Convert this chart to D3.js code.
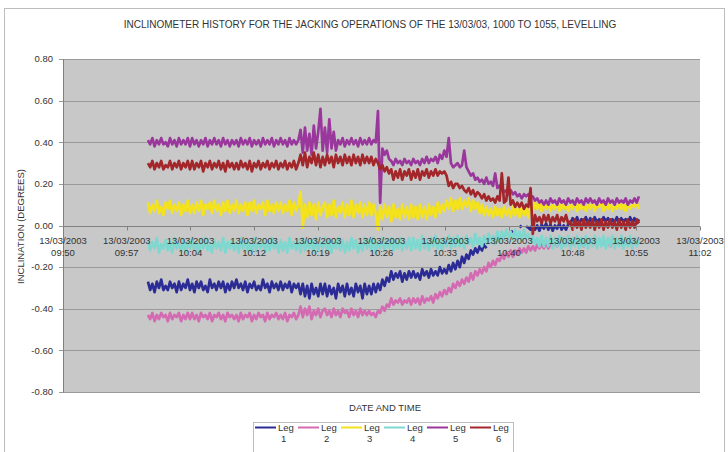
<!DOCTYPE html>
<html>
<head>
<meta charset="utf-8">
<script src="https://cdn.jsdelivr.net/npm/d3@7"></script>
<style>
  body { margin: 0; background: #fff; }
  svg { display: block; font-family: "Liberation Sans", Arial, sans-serif; }
</style>
</head>
<body>
<svg id="chart" width="728" height="452"></svg>
<script>
// ---- chart text ----
const chartTitle = "INCLINOMETER HISTORY FOR THE JACKING OPERATIONS OF THE 13/03/03, 1000 TO 1055, LEVELLING";
const xAxisTitle = "DATE AND TIME";
const yAxisTitle = "INCLINATION (DEGREES)";
const chartDate = "13/03/2003";

// ---- axes ----
const yTicks = [0.8, 0.6, 0.4, 0.2, 0.0, -0.2, -0.4, -0.6, -0.8];
const xTickTimes = ["09:50:24", "09:57:36", "10:04:48", "10:12:00", "10:19:12", "10:26:24",
                    "10:33:36", "10:40:48", "10:48:00", "10:55:12", "11:02:24"];

// ---- series ----
const seriesNames = ["Leg 1", "Leg 2", "Leg 3", "Leg 4", "Leg 5", "Leg 6"];
const seriesColors = ["#2c2c96", "#d46ab2", "#f4e31c", "#7ed8d0", "#9a379c", "#a3262a"];

// logger readings, one every 15 s from 10:00:00 (degrees)
const sampleStart = "10:00:00";
const sampleStepSeconds = 15;

const leg1 = [
  -0.27,-0.31,-0.28,-0.32,-0.27,-0.30,-0.26,-0.31,-0.29,-0.31,-0.27,-0.30,-0.28,-0.32,-0.27,-0.31,-0.28,-0.30,-0.26,-0.31,
  -0.28,-0.32,-0.27,-0.30,-0.27,-0.31,-0.29,-0.32,-0.26,-0.30,-0.28,-0.31,-0.27,-0.30,-0.27,-0.32,-0.28,-0.31,-0.27,-0.30,
  -0.26,-0.30,-0.28,-0.31,-0.27,-0.32,-0.28,-0.30,-0.27,-0.31,-0.29,-0.31,-0.26,-0.30,-0.28,-0.32,-0.27,-0.30,-0.28,-0.31,
  -0.27,-0.31,-0.28,-0.30,-0.27,-0.32,-0.28,-0.30,-0.28,-0.33,-0.28,-0.34,-0.29,-0.35,-0.28,-0.33,-0.30,-0.34,-0.28,-0.33,
  -0.28,-0.34,-0.29,-0.33,-0.30,-0.35,-0.28,-0.32,-0.29,-0.34,-0.28,-0.33,-0.30,-0.34,-0.28,-0.32,-0.29,-0.35,-0.28,-0.33,
  -0.29,-0.33,-0.28,-0.32,-0.28,-0.31,-0.26,-0.29,-0.25,-0.27,-0.22,-0.26,-0.23,-0.25,-0.22,-0.27,-0.23,-0.26,-0.22,-0.25,
  -0.22,-0.25,-0.23,-0.26,-0.21,-0.24,-0.22,-0.25,-0.21,-0.24,-0.22,-0.24,-0.20,-0.23,-0.21,-0.23,-0.19,-0.22,-0.18,-0.21,
  -0.17,-0.20,-0.15,-0.18,-0.14,-0.16,-0.12,-0.14,-0.11,-0.13,-0.10,-0.12,-0.09,-0.11,null,null,-0.07,-0.06,null,null,
  -0.06,-0.05,null,null,-0.035,-0.025,null,null,-0.01,0.0,null,-0.005,-0.01,-0.02,0.01,-0.02,0.0,-0.025,0.005,-0.015,
  0.01,-0.02,0.005,-0.025,0.0,-0.015,0.01,-0.02,0.0,-0.02,0.005,0.01,0.035,0.015,0.04,0.01,0.03,0.02,0.04,0.01,
  0.035,0.01,0.04,0.015,0.03,0.01,0.04,0.02,0.035,0.01,0.03,0.015,0.04,0.01,0.035,0.02,0.03,0.01,0.04,0.015,
  0.035,0.01,0.03
];

const leg2 = [
  -0.43,-0.45,-0.42,-0.46,-0.43,-0.45,-0.42,-0.44,-0.43,-0.46,-0.42,-0.45,-0.43,-0.44,-0.42,-0.46,-0.43,-0.45,-0.42,-0.45,
  -0.42,-0.45,-0.43,-0.46,-0.42,-0.44,-0.43,-0.45,-0.42,-0.46,-0.43,-0.44,-0.42,-0.45,-0.43,-0.46,-0.42,-0.44,-0.43,-0.45,
  -0.43,-0.46,-0.42,-0.45,-0.43,-0.44,-0.42,-0.46,-0.43,-0.45,-0.42,-0.44,-0.43,-0.46,-0.42,-0.45,-0.43,-0.44,-0.42,-0.45,
  -0.43,-0.45,-0.42,-0.46,-0.43,-0.44,-0.42,-0.45,-0.43,-0.39,-0.44,-0.40,-0.43,-0.39,-0.45,-0.41,-0.43,-0.40,-0.44,-0.41,
  -0.40,-0.43,-0.41,-0.44,-0.40,-0.43,-0.41,-0.44,-0.40,-0.42,-0.41,-0.44,-0.40,-0.43,-0.41,-0.44,-0.40,-0.43,-0.41,-0.43,
  -0.41,-0.43,-0.42,-0.44,-0.41,-0.42,-0.39,-0.41,-0.38,-0.39,-0.35,-0.38,-0.36,-0.37,-0.35,-0.38,-0.36,-0.37,-0.35,-0.38,
  -0.35,-0.37,-0.35,-0.38,-0.34,-0.37,-0.35,-0.36,-0.34,-0.37,-0.33,-0.35,-0.32,-0.34,-0.31,-0.33,-0.30,-0.32,-0.28,-0.30,
  -0.27,-0.29,-0.26,-0.28,-0.25,-0.27,-0.23,-0.26,-0.22,-0.24,-0.21,-0.23,-0.20,-0.22,-0.18,-0.20,-0.17,-0.19,-0.16,-0.17,
  -0.14,-0.16,-0.13,-0.15,-0.12,-0.15,-0.12,-0.14,-0.11,-0.13,-0.11,-0.13,-0.10,-0.12,-0.10,-0.12,-0.09,-0.11,-0.09,-0.11,
  -0.08,-0.11,-0.09,-0.10,-0.08,-0.10,-0.07,-0.10,-0.08,-0.09,-0.07,-0.10,-0.08,-0.09,-0.07,-0.09,-0.08,-0.10,-0.07,-0.09,
  -0.07,-0.09,-0.08,-0.10,-0.07,-0.09,-0.08,-0.09,-0.07,-0.10,-0.08,-0.09,-0.07,-0.09,-0.08,-0.10,-0.07,-0.09,-0.08,-0.09,
  -0.07,-0.09,-0.08
];

const leg3 = [
  0.11,0.06,0.10,0.07,0.12,0.06,0.09,0.05,0.11,0.08,0.12,0.06,0.10,0.07,0.11,0.05,0.10,0.07,0.12,0.06,
  0.10,0.06,0.11,0.07,0.12,0.05,0.10,0.08,0.11,0.06,0.12,0.07,0.10,0.05,0.11,0.07,0.12,0.06,0.10,0.07,
  0.12,0.06,0.10,0.07,0.11,0.05,0.11,0.07,0.12,0.06,0.10,0.08,0.11,0.05,0.12,0.07,0.10,0.06,0.11,0.07,
  0.11,0.06,0.10,0.07,0.12,0.05,0.11,0.07,0.10,0.16,-0.01,0.10,0.04,0.11,0.05,0.10,0.03,0.11,0.05,0.09,
  0.11,0.04,0.10,0.05,0.12,0.04,0.09,0.06,0.11,0.04,0.10,0.05,0.12,0.04,0.10,0.06,0.11,0.04,0.10,0.05,
  0.11,0.05,0.10,0.06,-0.02,0.09,0.03,0.10,0.04,0.09,0.02,0.10,0.04,0.08,0.03,0.10,0.04,0.09,0.03,0.10,
  0.04,0.09,0.03,0.10,0.04,0.09,0.03,0.10,0.05,0.09,0.04,0.11,0.06,0.10,0.07,0.12,0.08,0.13,0.07,0.12,
  0.08,0.13,0.08,0.12,0.09,0.13,0.07,0.12,0.08,0.11,0.06,0.10,0.05,0.09,0.05,0.08,0.04,0.09,0.05,0.08,
  0.04,0.09,0.05,0.08,0.04,0.09,0.05,0.08,0.04,0.09,0.05,0.08,0.04,0.10,0.07,0.11,0.08,0.11,0.07,0.10,
  0.08,0.11,0.07,0.10,0.08,0.11,0.07,0.10,0.08,0.11,0.07,0.10,0.08,0.11,0.07,0.10,0.08,0.11,0.07,0.10,
  0.08,0.11,0.07,0.10,0.09,0.11,0.07,0.10,0.08,0.11,0.07,0.10,0.08,0.11,0.08,0.10,0.07,0.11,0.08,0.10,
  0.09,0.11,0.08
];

const leg4 = [
  -0.07,-0.12,-0.08,-0.11,-0.06,-0.13,-0.09,-0.11,-0.07,-0.12,-0.08,-0.13,-0.06,-0.11,-0.09,-0.12,-0.07,-0.13,-0.08,-0.11,
  -0.06,-0.12,-0.08,-0.13,-0.07,-0.11,-0.06,-0.12,-0.09,-0.13,-0.07,-0.11,-0.08,-0.12,-0.06,-0.13,-0.08,-0.11,-0.07,-0.12,
  -0.08,-0.13,-0.06,-0.11,-0.07,-0.12,-0.09,-0.13,-0.06,-0.12,-0.08,-0.11,-0.07,-0.13,-0.08,-0.12,-0.06,-0.11,-0.07,-0.13,
  -0.07,-0.12,-0.08,-0.13,-0.06,-0.11,-0.08,-0.12,-0.07,-0.13,-0.06,-0.12,-0.08,-0.11,-0.07,-0.13,-0.06,-0.12,-0.08,-0.11,
  -0.06,-0.12,-0.07,-0.13,-0.08,-0.11,-0.06,-0.12,-0.07,-0.13,-0.08,-0.12,-0.06,-0.11,-0.07,-0.13,-0.08,-0.12,-0.06,-0.11,
  -0.07,-0.12,-0.06,-0.13,-0.08,-0.11,-0.06,-0.12,-0.07,-0.11,-0.06,-0.12,-0.08,-0.11,-0.06,-0.12,-0.07,-0.11,-0.06,-0.12,
  -0.06,-0.11,-0.07,-0.12,-0.05,-0.11,-0.07,-0.12,-0.06,-0.10,-0.05,-0.11,-0.07,-0.12,-0.06,-0.10,-0.05,-0.11,-0.06,-0.10,
  -0.05,-0.10,-0.06,-0.11,-0.05,-0.09,-0.06,-0.10,-0.04,-0.09,-0.06,-0.10,-0.05,-0.09,-0.04,-0.08,-0.05,-0.09,-0.03,-0.08,
  -0.03,-0.07,-0.02,-0.06,-0.03,-0.07,-0.02,-0.06,-0.03,-0.07,-0.02,-0.06,-0.04,-0.08,-0.05,-0.09,-0.06,-0.10,-0.05,-0.10,
  -0.06,-0.10,-0.05,-0.11,-0.06,-0.10,-0.05,-0.11,-0.06,-0.10,-0.05,-0.11,-0.06,-0.10,-0.05,-0.11,-0.06,-0.10,-0.05,-0.11,
  -0.06,-0.10,-0.05,-0.11,-0.06,-0.10,-0.05,-0.11,-0.06,-0.10,-0.05,-0.11,-0.06,-0.10,-0.05,-0.11,-0.06,-0.10,-0.05,-0.11,
  -0.06,-0.10,-0.07
];

const leg5 = [
  0.41,0.39,0.42,0.38,0.41,0.39,0.42,0.39,0.40,0.38,0.42,0.39,0.41,0.38,0.42,0.39,0.41,0.39,0.42,0.38,
  0.42,0.39,0.41,0.38,0.41,0.39,0.42,0.38,0.41,0.39,0.42,0.39,0.41,0.38,0.42,0.39,0.41,0.38,0.41,0.39,
  0.41,0.38,0.42,0.39,0.41,0.39,0.42,0.38,0.41,0.39,0.41,0.38,0.42,0.39,0.41,0.39,0.42,0.38,0.41,0.39,
  0.42,0.39,0.41,0.38,0.42,0.39,0.41,0.39,0.41,0.46,0.35,0.47,0.36,0.44,0.34,0.48,0.37,0.45,0.56,0.36,
  0.47,0.35,0.51,0.37,0.45,0.36,0.41,0.39,0.42,0.38,0.41,0.39,0.42,0.39,0.41,0.38,0.42,0.39,0.41,0.39,
  0.42,0.39,0.41,0.40,0.55,0.11,0.37,0.34,0.36,0.32,0.31,0.29,0.32,0.30,0.31,0.29,0.32,0.30,0.31,0.29,
  0.32,0.30,0.31,0.29,0.32,0.30,0.33,0.30,0.32,0.31,0.33,0.30,0.34,0.32,0.36,0.33,0.42,0.30,0.28,0.29,
  0.30,0.28,0.29,0.36,0.28,0.26,0.24,0.25,0.22,0.23,0.21,0.22,0.20,0.23,0.20,0.21,0.19,0.25,0.18,0.19,
  0.18,0.16,0.17,0.15,0.17,0.15,0.16,0.14,0.15,0.13,0.15,0.14,0.15,0.13,0.14,0.12,0.13,0.11,0.12,0.10,
  0.12,0.10,0.13,0.11,0.12,0.10,0.13,0.11,0.12,0.10,0.13,0.11,0.12,0.10,0.13,0.11,0.12,0.10,0.13,0.11,
  0.13,0.11,0.12,0.10,0.13,0.11,0.12,0.10,0.13,0.11,0.12,0.10,0.13,0.11,0.12,0.11,0.13,0.10,0.12,0.11,
  0.13,0.11,0.14
];

const leg6 = [
  0.30,0.28,0.31,0.27,0.30,0.28,0.31,0.27,0.29,0.28,0.31,0.27,0.30,0.28,0.31,0.27,0.30,0.28,0.31,0.27,
  0.31,0.27,0.30,0.28,0.31,0.26,0.30,0.28,0.31,0.27,0.30,0.28,0.31,0.27,0.30,0.26,0.31,0.28,0.30,0.27,
  0.30,0.27,0.31,0.28,0.30,0.27,0.31,0.26,0.30,0.28,0.31,0.27,0.30,0.28,0.31,0.27,0.30,0.28,0.31,0.27,
  0.30,0.28,0.31,0.27,0.30,0.28,0.31,0.27,0.30,0.34,0.29,0.35,0.28,0.33,0.30,0.35,0.29,0.34,0.28,0.33,
  0.29,0.34,0.30,0.33,0.28,0.34,0.30,0.33,0.29,0.34,0.30,0.33,0.29,0.34,0.30,0.33,0.29,0.34,0.30,0.33,
  0.30,0.33,0.29,0.32,0.30,0.27,0.29,0.26,0.28,0.25,0.27,0.22,0.26,0.23,0.27,0.22,0.26,0.24,0.27,0.22,
  0.26,0.23,0.27,0.22,0.26,0.24,0.27,0.23,0.26,0.24,0.27,0.24,0.26,0.25,0.26,0.24,0.19,0.21,0.18,0.20,
  0.20,0.18,0.19,0.17,0.16,0.18,0.15,0.17,0.14,0.16,0.15,0.13,0.15,0.12,0.14,0.12,0.13,0.11,0.14,0.12,
  0.25,0.11,0.12,0.23,0.10,0.12,0.09,0.11,0.09,0.11,0.08,0.10,0.09,0.18,-0.04,0.05,0.02,0.04,0.01,0.05,
  0.02,0.05,0.01,0.04,0.02,0.05,0.01,0.04,0.02,0.05,0.01,0.02,-0.02,0.03,-0.01,0.02,-0.02,0.03,-0.01,0.02,
  -0.01,0.03,-0.02,0.02,-0.01,0.03,-0.02,0.02,-0.01,0.03,-0.01,0.02,-0.02,0.03,-0.01,0.02,-0.02,0.03,-0.01,0.02,
  -0.01,0.03,0.01
];

const seriesValues = [leg1, leg2, leg3, leg4, leg5, leg6];

// ---- layout ----
const plot = { left: 63, right: 700, top: 59, bottom: 392 };

const svg = d3.select("#chart");
const parseTime = d3.timeParse("%d/%m/%Y %H:%M:%S");
const fmtDate = d3.timeFormat("%d/%m/%Y");
const fmtClock = d3.timeFormat("%H:%M");
const fmtY = d3.formatLocale({ decimal: ".", thousands: ",", grouping: [3], currency: ["", ""], minus: "-" }).format(".2f");

const tickDates = xTickTimes.map(s => parseTime(chartDate + " " + s));
const x = d3.scaleTime().domain([tickDates[0], tickDates[tickDates.length - 1]]).range([plot.left, plot.right]);
const y = d3.scaleLinear().domain([-0.8, 0.8]).range([plot.bottom, plot.top]);

const t0 = parseTime(chartDate + " " + sampleStart);
const toPoints = vals => vals.map((v, i) => ({ t: new Date(t0.getTime() + i * sampleStepSeconds * 1000), v }));

// outer chart frame
svg.append("rect").attr("x", 4.5).attr("y", 8.5).attr("width", 720).attr("height", 470)
  .attr("fill", "#fff").attr("stroke", "#bdbdbd");

// title
svg.append("text").attr("x", 370).attr("y", 28).attr("text-anchor", "middle")
  .attr("font-size", 10).attr("fill", "#333").text(chartTitle);

// plot background
svg.append("rect").attr("x", plot.left).attr("y", plot.top)
  .attr("width", plot.right - plot.left).attr("height", plot.bottom - plot.top)
  .attr("fill", "#c8c8c8");

// horizontal gridlines with left tick marks
svg.append("g").selectAll("line").data(yTicks).join("line")
  .attr("x1", plot.left - 4).attr("x2", plot.right)
  .attr("y1", d => Math.round(y(d)) + 0.5).attr("y2", d => Math.round(y(d)) + 0.5)
  .attr("stroke", "#9a9a9a").attr("stroke-width", 1);

// y tick labels
svg.append("g").selectAll("text").data(yTicks).join("text")
  .attr("x", 53).attr("y", d => y(d)).attr("dy", "0.35em")
  .attr("text-anchor", "end").attr("font-size", 9.5).attr("fill", "#333")
  .text(d => fmtY(d));

// y axis line
svg.append("line").attr("x1", plot.left + 0.5).attr("x2", plot.left + 0.5)
  .attr("y1", plot.top).attr("y2", plot.bottom + 0.5)
  .attr("stroke", "#808080");

// y axis title
svg.append("text")
  .attr("transform", `translate(24,${(plot.top + plot.bottom) / 2 + 1}) rotate(-90)`)
  .attr("text-anchor", "middle").attr("font-size", 9.5).attr("fill", "#333")
  .text(yAxisTitle);

// series, drawn in legend order so later legs sit on top
svg.append("clipPath").attr("id", "plotClip").append("rect")
  .attr("x", plot.left).attr("y", plot.top)
  .attr("width", plot.right - plot.left).attr("height", plot.bottom - plot.top);

const line = d3.line().defined(d => d.v !== null).x(d => x(d.t)).y(d => y(d.v));
const seriesG = svg.append("g").attr("clip-path", "url(#plotClip)");
seriesValues.forEach((vals, i) => {
  seriesG.append("path").datum(toPoints(vals))
    .attr("d", line).attr("fill", "none")
    .attr("stroke", seriesColors[i]).attr("stroke-width", 2.7)
    .attr("stroke-linejoin", "round");
});

// x axis along zero
const y0 = Math.round(y(0)) + 0.5;
svg.append("line").attr("x1", plot.left).attr("x2", plot.right)
  .attr("y1", y0).attr("y2", y0).attr("stroke", "#808080");
svg.append("g").selectAll("line").data(tickDates).join("line")
  .attr("x1", d => Math.round(x(d)) + 0.5).attr("x2", d => Math.round(x(d)) + 0.5)
  .attr("y1", y0).attr("y2", y0 + 4).attr("stroke", "#808080");

// x tick labels (date over time)
const xl = svg.append("g").selectAll("text").data(tickDates).join("text")
  .attr("text-anchor", "middle").attr("font-size", 9.5).attr("fill", "#333");
xl.append("tspan").attr("x", d => x(d)).attr("y", 244).text(d => fmtDate(d));
xl.append("tspan").attr("x", d => x(d)).attr("y", 256).text(d => fmtClock(d));

// x axis title
svg.append("text").attr("x", 385).attr("y", 411).attr("text-anchor", "middle")
  .attr("font-size", 9.5).attr("fill", "#333").text(xAxisTitle);

// legend
const lg = svg.append("g");
lg.append("rect").attr("x", 253.5).attr("y", 422.5).attr("width", 260).attr("height", 40)
  .attr("fill", "#fff").attr("stroke", "#bdbdbd");
seriesNames.forEach((name, i) => {
  const lx = 255 + i * 43;
  const parts = name.split(" ");
  lg.append("line").attr("x1", lx).attr("x2", lx + 21).attr("y1", 427.5).attr("y2", 427.5)
    .attr("stroke", seriesColors[i]).attr("stroke-width", 2);
  const t = lg.append("text").attr("font-size", 9.5).attr("fill", "#333");
  t.append("tspan").attr("x", lx + 23).attr("y", 431).text(parts[0]);
  t.append("tspan").attr("x", lx + 26).attr("y", 442).text(parts[1]);
});
</script>
</body>
</html>
